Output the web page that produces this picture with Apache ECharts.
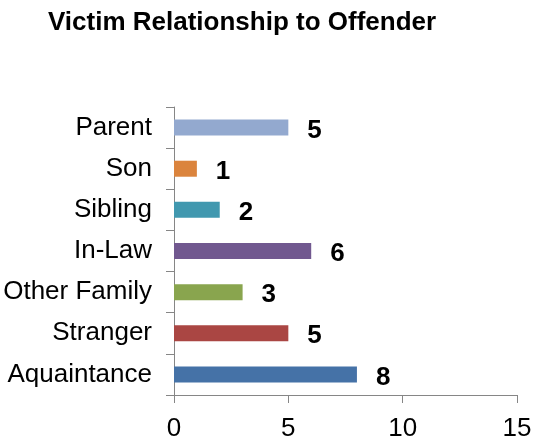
<!DOCTYPE html>
<html>
<head>
<meta charset="utf-8">
<script src="https://cdn.jsdelivr.net/npm/echarts@6/dist/echarts.min.js"></script>
<style>
html,body{margin:0;padding:0;background:#fff;}
#main{width:538px;height:448px;}
</style>
</head>
<body>
<div id="main"></div>
<script>
// categories bottom -> top (same order as drawn by a category y axis)
var categories = ['Aquaintance', 'Stranger', 'Other Family', 'In-Law', 'Sibling', 'Son', 'Parent'];
var counts = [8, 5, 3, 6, 2, 1, 5];
var barColors = ['#4572A7', '#AA4643', '#89A54E', '#71588F', '#4198AF', '#DB843D', '#93A9CF'];
var xTicks = [0, 5, 10, 15];

var myChart = echarts.init(document.getElementById('main'));

var barData = counts.map(function (v, i) {
    return { value: v, itemStyle: { color: barColors[i] } };
});

var option = {
    animation: false,
    backgroundColor: '#fff',
    title: {
        text: 'Victim Relationship to Offender',
        left: 43,
        top: 5,
        textStyle: { fontFamily: 'Liberation Sans', fontSize: 26, fontWeight: 'bold', color: '#000' }
    },
    grid: { left: 174, right: 21, top: 107, bottom: 53, containLabel: false },
    xAxis: {
        type: 'value',
        min: xTicks[0],
        max: xTicks[xTicks.length - 1],
        interval: 5,
        splitLine: { show: false },
        axisLine: { show: true, lineStyle: { color: '#868686', width: 1 } },
        axisTick: { show: true, length: 8, lineStyle: { color: '#868686' } },
        axisLabel: { fontFamily: 'Liberation Sans', fontSize: 26, color: '#000', margin: 21 }
    },
    yAxis: {
        type: 'category',
        data: categories,
        axisLine: { show: true, lineStyle: { color: '#868686', width: 1 } },
        axisTick: { show: true, length: 8, lineStyle: { color: '#868686' } },
        axisLabel: { fontFamily: 'Liberation Sans', fontSize: 26, color: '#000', margin: 22 }
    },
    series: [{
        type: 'bar',
        data: barData,
        barWidth: 16,
        label: {
            show: true,
            position: 'right',
            distance: 19,
            fontFamily: 'Liberation Sans',
            fontSize: 26,
            fontWeight: 'bold',
            color: '#000',
            offset: [0, 3]
        }
    }]
};

myChart.setOption(option);
</script>
</body>
</html>
